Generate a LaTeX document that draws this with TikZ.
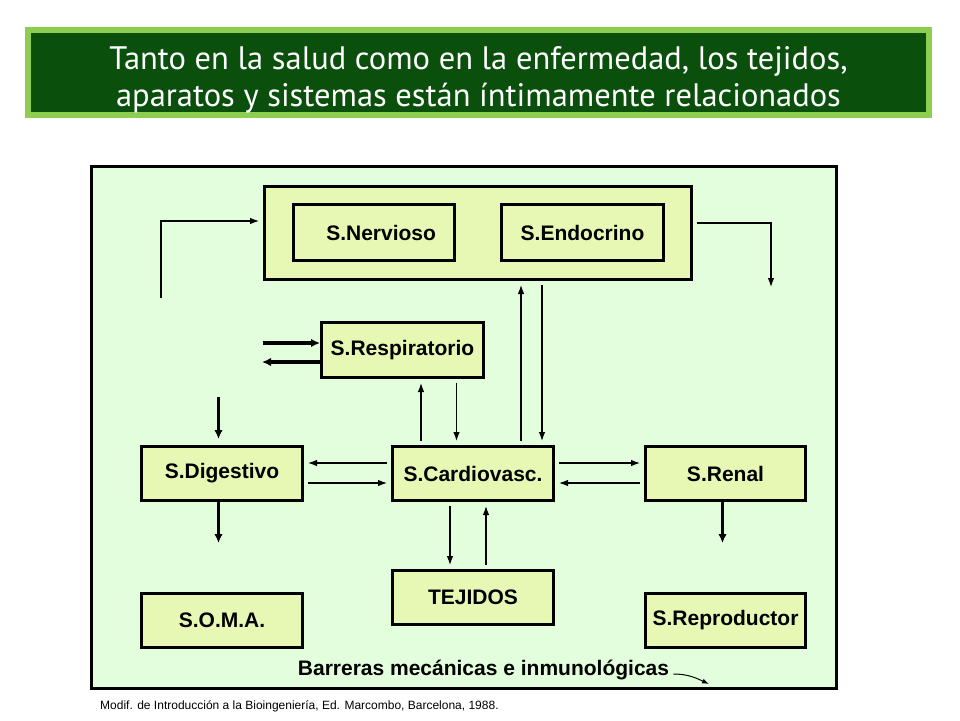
\documentclass[tikz,border=0pt]{standalone}
\usepackage{fontspec}
\setmainfont{Liberation Sans}
\newfontfamily\titlefont{PT Sans}
\usetikzlibrary{arrows.meta,positioning}

\definecolor{verdeoscuro}{RGB}{10,80,12}
\definecolor{verdeclaro}{RGB}{141,206,80}
\definecolor{fondo}{RGB}{226,254,220}
\definecolor{caja}{RGB}{230,248,180}

\begin{document}
\begin{tikzpicture}
[x=1pt, y=-1pt,
% STYLES
every node/.style={inner sep=0pt},
% The sistema style draws the box of each system
sistema/.style={rectangle, draw, line width=3pt, fill=caja, minimum width=161pt, minimum height=54pt, font=\fontsize{21}{24}\selectfont\bfseries},
% The flecha style is used for the thin links between systems
flecha/.style={-{Latex[length=9pt,width=6.5pt]}, line width=1.1pt, shorten <=4pt, shorten >=4pt},
% The gruesa style is used for the thick inputs and outputs
gruesa/.style={-{Latex[length=9pt,width=8.5pt]}, line width=3.2pt}]

\useasboundingbox (0,0) rectangle (960,720);

% TITLE
\node [draw=verdeclaro, line width=6pt, fill=verdeoscuro, minimum width=901pt, minimum height=85pt, text=white, align=center, font=\titlefont\fontsize{32.5}{37}\selectfont] (titulo) at (478.5,72.5) {\rule{0pt}{37pt}Tanto en la salud como en la enfermedad, los tejidos,\\aparatos y sistemas están íntimamente relacionados};

% FRAME
\node [draw, line width=3pt, fill=fondo, minimum width=745pt, minimum height=522pt] (marco) at (464,427.5) {};

% Draw systems
\node [sistema, minimum width=427pt, minimum height=93pt] (sistemas) at (478,233) {};
\node [sistema, minimum height=56pt, text width=124pt, align=right] (nervioso) at (374,232.5) {S.Nervioso};
\node [sistema, minimum width=162pt, minimum height=56pt] (endocrino) at (582.5,232.5) {S.Endocrino};
\node [sistema, minimum width=162pt, minimum height=55pt] (resp) at (402.5,350) {S.Respiratorio};
\node [sistema] (digest) at (222,473.5) {S.Digestivo};
\node [sistema] (cardio) at (473,473.5) {S.Cardiovasc.};
\node [sistema, minimum width=160pt] (renal) at (725.5,473.5) {S.Renal};
\node [sistema] (tejidos) at (473,597.5) {TEJIDOS};
\node [sistema] (soma) at (222,620.5) {S.O.M.A.};
\node [sistema, minimum width=160pt] (reprod) at (725.5,620.5) {S.Reproductor};

% BARRIERS
\node [font=\fontsize{21}{24}\selectfont\bfseries] (barreras) at (483.5,670) {Barreras mecánicas e inmunológicas};
% SOURCE
\node [anchor=west, font=\fontsize{12}{14}\selectfont] (fuente) at (100,706) {Modif. de Introducción a la Bioingeniería, Ed. Marcombo, Barcelona, 1988.};

% Free ends
\coordinate (entrada) at (161,302);
\coordinate (salida) at (771,291);
\coordinate (aire-in) at (263,343);
\coordinate (aire-out) at (262,362);
\coordinate (dig-in) at (218.5,397);
\coordinate (dig-out) at (218.5,543);
\coordinate (ren-out) at (722.5,543);
\coordinate (barr-fin) at (709,684);

% Draw the links between systems
% NERVIOSO - ENDOCRINO
\draw [flecha] (entrada) |- ([yshift=12pt]sistemas.west);
\draw [flecha] ([yshift=10pt]sistemas.east) -| (salida);
\draw [flecha] ([xshift=48pt]cardio.north) -- ([xshift=48pt]cardio.north |- sistemas.south);
\draw [flecha] ([xshift=69pt]cardio.north |- sistemas.south) -- ([xshift=69pt]cardio.north);
% RESPIRATORIO
\draw [gruesa] (aire-in) -- (aire-in -| resp.west);
\draw [gruesa] (aire-out -| resp.west) -- (aire-out);
\draw [flecha] ([xshift=-52pt]cardio.north) -- ([xshift=-52pt]cardio.north |- resp.south);
\draw [flecha] ([xshift=-16.5pt]cardio.north |- resp.south) -- ([xshift=-16.5pt]cardio.north);
% DIGESTIVO
\draw [gruesa, shorten >=6pt] (dig-in) -- (dig-in |- digest.north);
\draw [gruesa] (digest.south -| dig-out) -- (dig-out);
\draw [flecha] ([yshift=10.5pt]cardio.west) -- ([yshift=10.5pt]cardio.west -| digest.east);
\draw [flecha] ([yshift=-9.5pt]cardio.west -| digest.east) -- ([yshift=-9.5pt]cardio.west);
% RENAL
\draw [gruesa] (renal.south -| ren-out) -- (ren-out);
\draw [flecha] ([yshift=10.5pt]cardio.east) -- ([yshift=10.5pt]cardio.east -| renal.west);
\draw [flecha] ([yshift=-9.5pt]cardio.east -| renal.west) -- ([yshift=-9.5pt]cardio.east);
% TEJIDOS
\draw [flecha] ([xshift=-23pt]cardio.south) -- ([xshift=-23pt]cardio.south |- tejidos.north);
\draw [flecha] ([xshift=13pt]cardio.south |- tejidos.north) -- ([xshift=13pt]cardio.south);
% BARRERAS
\draw [-{Latex[length=7pt,width=5pt]}, line width=1pt] ([xshift=4pt,yshift=-4pt]barreras.east) to[out=0, in=155] (barr-fin);

\end{tikzpicture}
\end{document}
